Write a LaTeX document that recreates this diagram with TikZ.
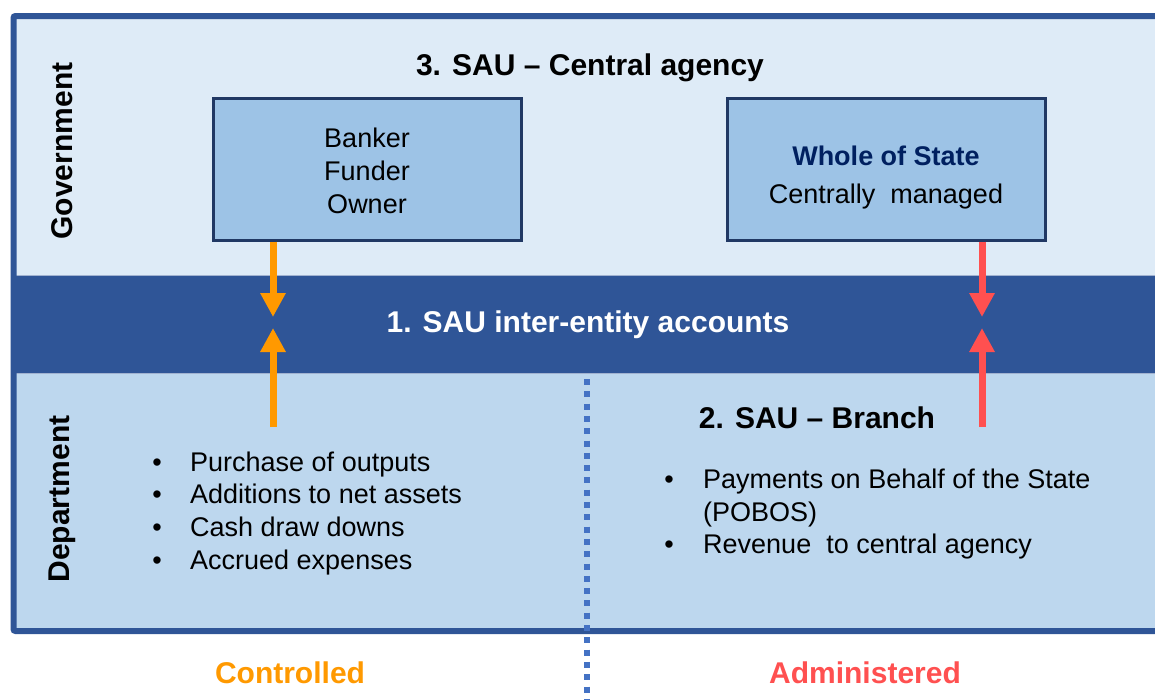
\documentclass[tikz,border=0pt]{standalone}
\usepackage{fontspec}
\setmainfont{Liberation Sans}
\usetikzlibrary{arrows.meta, positioning}

\definecolor{govfill}{HTML}{DEEBF7}
\definecolor{deptfill}{HTML}{BDD7EE}
\definecolor{bandblue}{HTML}{2F5597}
\definecolor{boxfill}{HTML}{9DC3E6}
\definecolor{boxline}{HTML}{203864}
\definecolor{navytext}{HTML}{002060}
\definecolor{ctrlorange}{HTML}{FF9900}
\definecolor{admred}{HTML}{FF5050}
\definecolor{dotblue}{HTML}{4472C4}

\tikzset{
  rolebox/.style={draw=boxline, line width=3pt, fill=boxfill, minimum height=142pt, inner sep=0pt},
  boxtext/.style={align=center, font=\fontsize{27}{33}\selectfont},
  head/.style={font=\fontsize{30}{36}\selectfont\bfseries},
  item/.style={anchor=west, inner sep=0pt, font=\fontsize{27}{33}\selectfont, text height=20pt, text depth=6pt},
  bulletmark/.style={inner sep=0pt, font=\fontsize{27}{33}\selectfont, text height=20pt, text depth=6pt},
  flow/.style={line width=7pt, -{Triangle[length=24pt,width=24pt]}},
}

\begin{document}
\begin{tikzpicture}[x=1pt, y=-1pt]
            \useasboundingbox (0,0) rectangle (1155,699);

            % Panels
            \fill[govfill] (14,17) rectangle (1165,275);
            \fill[bandblue] (14,275) rectangle (1165,373);
            \fill[deptfill] (14,373) rectangle (1165,630);
            \draw[bandblue!45!white, line width=1pt] (14,275) -- (1165,275);
            \draw[bandblue!45!white, line width=1pt] (14,373) -- (1165,373);
            \draw[bandblue, line width=6pt, rounded corners=2pt] (13.5,16) rectangle (1170,631);

            % Divider
            \draw[dotblue, line width=6pt, dash pattern=on 6pt off 6.3pt] (587,379) -- (587,699);

            % Side labels
            \node[head, rotate=90] (gov) at (62,151) {Government};
            \node[head, rotate=90] (dept) at (62,499) {Department};

            % Government level
            \node[head] (central) at (590,68) {3. SAU -- Central agency};
            \node[rolebox, minimum width=308pt] (fund) at (367,169) {};
            \node[boxtext] (fundtext) at ([yshift=-2pt]fund.center) {Banker\\Funder\\Owner};
            \node[rolebox, minimum width=318pt] (wos) at (886,169) {};
            \node[boxtext] (wostext) at ([yshift=-9pt]wos.center)
                {\textcolor{navytext}{\bfseries Whole of State}\\[5pt]Centrally\ \ managed};

            % Inter-entity band
            \node[head, text=white] (iea) at (588,325) {1. SAU inter-entity accounts};

            % Department level
            \node[head] (branch) at (817,418) {2. SAU -- Branch};

            \node[bulletmark] (b1) at (157,464) {\textbullet};
            \node[item] (c1) at (190,464) {Purchase of outputs};
            \node[bulletmark] (b2) at (157,496) {\textbullet};
            \node[item] (c2) at (190,496) {Additions to net assets};
            \node[bulletmark] (b3) at (157,529) {\textbullet};
            \node[item] (c3) at (190,529) {Cash draw downs};
            \node[bulletmark] (b4) at (157,562) {\textbullet};
            \node[item] (c4) at (190,562) {Accrued expenses};

            \node[bulletmark] (b5) at (669,481) {\textbullet};
            \node[item] (a1) at (703,481) {Payments on Behalf of the State};
            \node[item] (a2) at (703,514) {(POBOS)};
            \node[bulletmark] (b6) at (669,546) {\textbullet};
            \node[item] (a3) at (703,546) {Revenue\ \ to central agency};

            % Column captions
            \node[head, text=ctrlorange] (ctrl) at (290,673) {Controlled};
            \node[head, text=admred] (adm) at (865,673) {Administered};

            % Flows
            \coordinate (ctrlfoot) at (273,427);
            \coordinate (admfoot) at (982,427);
            \coordinate (ctrlmid) at (ctrlfoot |- 0,323);
            \coordinate (admmid) at (admfoot |- 0,323);
            \draw[flow, ctrlorange] ([xshift=-94pt]fund.south) -- ([yshift=6pt]ctrlmid);
            \draw[flow, ctrlorange] (ctrlfoot) -- ([yshift=-5pt]ctrlmid);
            \draw[flow, admred] ([xshift=96pt]wos.south) -- ([yshift=6pt]admmid);
            \draw[flow, admred] (admfoot) -- ([yshift=-5pt]admmid);
\end{tikzpicture}
\end{document}
